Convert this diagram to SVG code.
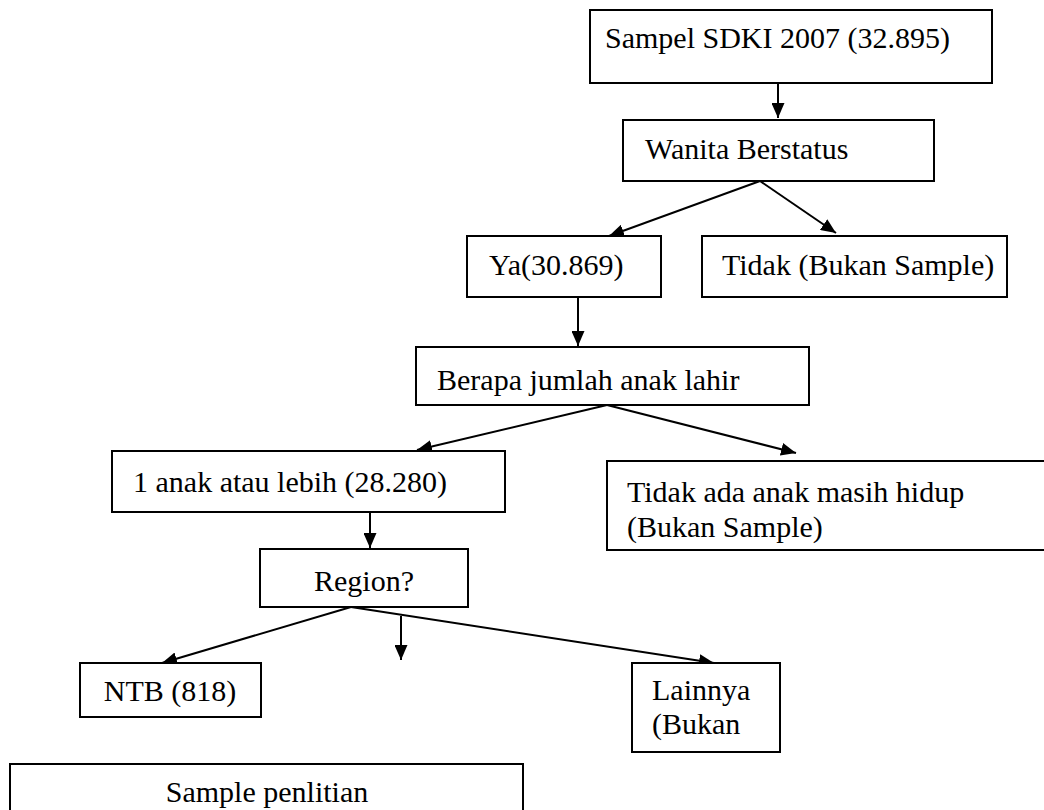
<svg xmlns="http://www.w3.org/2000/svg" width="1044" height="810" viewBox="0 0 1044 810">
<defs>
<marker id="arr" markerUnits="userSpaceOnUse" markerWidth="15" markerHeight="13" refX="15" refY="6.5" orient="auto">
<path d="M0,0 L15,6.5 L0,13 z" fill="#000"/>
</marker>
<style>
.box{fill:#fff;stroke:#000;stroke-width:2}
.t{font-family:"Liberation Serif","Times New Roman",serif;font-size:30px;fill:#000}
.c{text-anchor:middle}
.ln{stroke:#000;stroke-width:2;fill:none;marker-end:url(#arr)}
</style>
</defs>
<rect width="1044" height="810" fill="#fff"/>
<g id="connectors">
<line class="ln" x1="778" y1="83" x2="778" y2="118"/>
<line class="ln" x1="760" y1="181" x2="609" y2="236"/>
<line class="ln" x1="760" y1="181" x2="836" y2="233"/>
<line class="ln" x1="578" y1="297" x2="578" y2="346"/>
<line class="ln" x1="607" y1="405" x2="417" y2="450"/>
<line class="ln" x1="607" y1="405" x2="796" y2="453"/>
<line class="ln" x1="370" y1="512" x2="370" y2="548"/>
<line class="ln" x1="351" y1="607" x2="162" y2="663"/>
<line class="ln" x1="401" y1="616" x2="401" y2="660"/>
<line class="ln" x1="351" y1="607" x2="714" y2="663"/>
</g>
<g id="n-sampel">
<rect class="box" x="590" y="10" width="402" height="73"/>
<text class="t" x="605" y="48">Sampel SDKI 2007 (32.895)</text>
</g>
<g id="n-wanita">
<rect class="box" x="623" y="120" width="311" height="61"/>
<text class="t" x="645" y="159">Wanita Berstatus</text>
</g>
<g id="n-ya">
<rect class="box" x="467" y="236" width="194" height="61"/>
<text class="t" x="489" y="275">Ya(30.869)</text>
</g>
<g id="n-tidak">
<rect class="box" x="702" y="236" width="305" height="61"/>
<text class="t" x="722" y="275">Tidak (Bukan Sample)</text>
</g>
<g id="n-berapa">
<rect class="box" x="416" y="347" width="393" height="58"/>
<text class="t" x="437" y="390">Berapa jumlah anak lahir</text>
</g>
<g id="n-satu">
<rect class="box" x="112" y="451" width="393" height="61"/>
<text class="t" x="133" y="492">1 anak atau lebih (28.280)</text>
</g>
<g id="n-tidakada">
<rect class="box" x="607" y="461" width="460" height="89"/>
<text class="t" x="627" y="502">Tidak ada anak masih hidup</text>
<text class="t" x="627" y="537">(Bukan Sample)</text>
</g>
<g id="n-region">
<rect class="box" x="260" y="549" width="208" height="58"/>
<text class="t c" x="364" y="591">Region?</text>
</g>
<g id="n-ntb">
<rect class="box" x="80" y="663" width="181" height="54"/>
<text class="t c" x="170" y="701">NTB (818)</text>
</g>
<g id="n-lainnya">
<rect class="box" x="632" y="663" width="148" height="89"/>
<text class="t" x="652" y="700">Lainnya</text>
<text class="t" x="652" y="734">(Bukan</text>
</g>
<g id="n-sample">
<rect class="box" x="10" y="764" width="513" height="60"/>
<text class="t c" x="267" y="802">Sample penlitian</text>
</g>
</svg>
